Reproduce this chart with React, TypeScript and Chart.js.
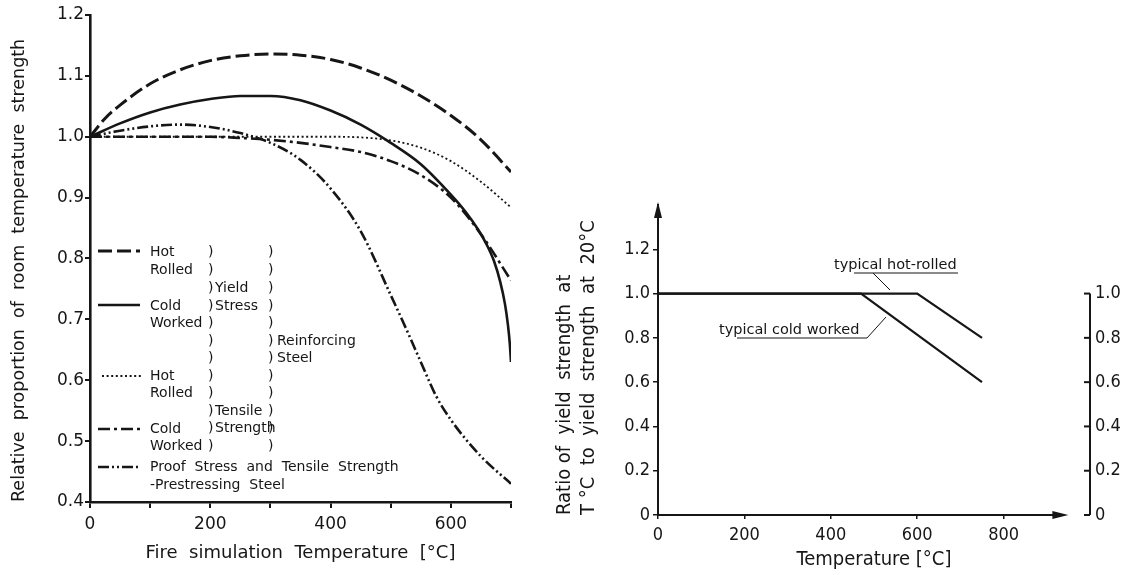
import React, { useEffect, useRef } from 'react';
import { Chart, registerables } from 'chart.js';

Chart.register(...registerables);

const FONT = '"DejaVu Sans", "Liberation Sans", Arial, sans-serif';
const FONT_C = '"DejaVu Sans Condensed", "DejaVu Sans", sans-serif';
const INK = '#161616';

// ---------------- Left chart data ----------------
const leftTempTicks = [0, 100, 200, 300, 400, 500, 600, 700];
const leftRatioTicks = [0.4, 0.5, 0.6, 0.7, 0.8, 0.9, 1.0, 1.1, 1.2];

// Reinforcing steel, hot rolled, yield stress
const hotYieldTemp = [0, 25, 50, 100, 150, 200, 250, 300, 350, 400, 450, 500, 550, 600, 650, 700];
const hotYieldRatio = [1.0, 1.03, 1.052, 1.087, 1.11, 1.125, 1.133, 1.136, 1.134, 1.127, 1.113, 1.093, 1.067, 1.035, 0.995, 0.942];

// Reinforcing steel, cold worked, yield stress
const coldYieldTemp = [0, 50, 100, 150, 200, 250, 300, 350, 400, 450, 500, 550, 600, 625, 645, 660, 672, 682, 690, 695, 698, 700];
const coldYieldRatio = [1.0, 1.022, 1.04, 1.053, 1.062, 1.067, 1.067, 1.06, 1.043, 1.02, 0.99, 0.955, 0.905, 0.876, 0.848, 0.822, 0.795, 0.762, 0.725, 0.69, 0.66, 0.63];

// Reinforcing steel, hot rolled, tensile strength
const hotTensileTemp = [0, 100, 200, 300, 400, 450, 500, 550, 600, 650, 700];
const hotTensileRatio = [1.0, 1.0, 1.0, 1.0, 1.0, 0.999, 0.994, 0.982, 0.96, 0.926, 0.884];

// Reinforcing steel, cold worked, tensile strength
const coldTensileTemp = [0, 100, 200, 250, 300, 350, 400, 450, 500, 550, 600, 650, 700];
const coldTensileRatio = [1.0, 1.0, 1.0, 0.998, 0.995, 0.99, 0.983, 0.975, 0.96, 0.937, 0.9, 0.84, 0.764];

// Prestressing steel, proof stress and tensile strength
const prestressTemp = [0, 50, 100, 150, 200, 250, 300, 350, 400, 450, 500, 530, 550, 575, 600, 650, 700];
const prestressRatio = [1.0, 1.01, 1.017, 1.02, 1.016, 1.006, 0.99, 0.962, 0.915, 0.845, 0.74, 0.675, 0.63, 0.575, 0.535, 0.475, 0.43];

// ---------------- Right chart data ----------------
const rightTempTicks = [0, 200, 400, 600, 800];
const rightRatioTicks = [0, 0.2, 0.4, 0.6, 0.8, 1.0, 1.2];
const secondaryRatioTicks = [0, 0.2, 0.4, 0.6, 0.8, 1.0];

const hotRolledTemp = [0, 600, 750];
const hotRolledRatio = [1.0, 1.0, 0.8];
const coldWorkedTemp = [0, 470, 750];
const coldWorkedRatio = [1.0, 1.0, 0.6];

// ---------------- styles ----------------
const STYLE = {
  hotYield: { dash: [14, 5], width: 3 },
  coldYield: { dash: [] as number[], width: 2.6 },
  hotTensile: { dash: [2, 2.6], width: 1.8 },
  coldTensile: { dash: [12, 4, 3, 4], width: 2.6 },
  prestress: { dash: [11, 3, 2, 3, 2, 3], width: 2.6 },
};

const pts = (xs: number[], ys: number[]) => xs.map((x, i) => ({ x, y: ys[i] }));

function curve(label: string, xs: number[], ys: number[], st: { dash: number[]; width: number }) {
  return {
    label,
    data: pts(xs, ys),
    borderColor: INK,
    borderWidth: st.width,
    borderDash: st.dash,
    borderCapStyle: 'butt' as const,
    pointRadius: 0,
    fill: false,
    cubicInterpolationMode: 'monotone' as const,
  };
}

const leftLegendPlugin = {
  id: 'leftLegend',
  afterDraw(chart: any) {
    const ctx = chart.ctx;
    ctx.save();
    ctx.strokeStyle = INK;
    ctx.fillStyle = INK;
    const samples = [
      { st: STYLE.hotYield, x0: 98, x1: 140, y: 251 },
      { st: STYLE.coldYield, x0: 98, x1: 140, y: 305 },
      { st: STYLE.hotTensile, x0: 102, x1: 143, y: 376 },
      { st: STYLE.coldTensile, x0: 98, x1: 140, y: 429 },
      { st: STYLE.prestress, x0: 98, x1: 140, y: 467 },
    ];
    samples.forEach((s) => {
      ctx.beginPath();
      ctx.setLineDash(s.st.dash);
      ctx.lineWidth = s.st.width;
      ctx.moveTo(s.x0, s.y);
      ctx.lineTo(s.x1, s.y);
      ctx.stroke();
    });
    ctx.setLineDash([]);
    ctx.font = `14px ${FONT}`;
    ctx.textBaseline = 'middle';
    ctx.textAlign = 'left';
    const texts: [string, number, number][] = [
      ['Hot', 150, 252], ['Rolled', 150, 270],
      ['Cold', 150, 306], ['Worked', 150, 323],
      ['Hot', 150, 376], ['Rolled', 150, 393],
      ['Cold', 150, 429], ['Worked', 150, 446],
      ['Proof  Stress  and  Tensile  Strength', 150, 467],
      ['-Prestressing  Steel', 150, 485],
      ['Yield', 215, 288], ['Stress', 215, 306],
      ['Tensile', 215, 411], ['Strength', 215, 428],
      ['Reinforcing', 277, 341], ['Steel', 277, 358],
    ];
    texts.forEach(([t, x, y]) => ctx.fillText(t, x, y));
    const rows = [252, 270, 288, 306, 323, 341, 358, 376, 393, 411, 428, 446];
    rows.forEach((y) => {
      ctx.fillText(')', 208, y);
      ctx.fillText(')', 268, y);
    });
    ctx.restore();
  },
};

const rightDecorPlugin = {
  id: 'rightDecor',
  afterDraw(chart: any) {
    const { ctx, chartArea, scales } = chart;
    const { x, y, y2 } = scales;
    ctx.save();
    ctx.strokeStyle = INK;
    ctx.fillStyle = INK;
    ctx.lineWidth = 2;
    const x0 = x.getPixelForValue(0);
    const yb = y.getPixelForValue(0);
    const xEnd = x.getPixelForValue(950);
    // x axis with arrow
    ctx.beginPath();
    ctx.moveTo(x0, yb);
    ctx.lineTo(xEnd - 6, yb);
    ctx.stroke();
    ctx.beginPath();
    ctx.moveTo(xEnd, yb);
    ctx.lineTo(xEnd - 16, yb - 4);
    ctx.lineTo(xEnd - 16, yb + 4);
    ctx.closePath();
    ctx.fill();
    // y axis arrow head
    const yt = chartArea.top - 3;
    ctx.beginPath();
    ctx.moveTo(x0, yt);
    ctx.lineTo(x0 - 4, yt + 16);
    ctx.lineTo(x0 + 4, yt + 16);
    ctx.closePath();
    ctx.fill();
    // secondary axis
    const xs = y2.left;
    ctx.beginPath();
    ctx.moveTo(xs, y2.getPixelForValue(1.0));
    ctx.lineTo(xs, y2.getPixelForValue(0));
    ctx.stroke();
    secondaryRatioTicks.forEach((v) => {
      const py = y2.getPixelForValue(v);
      ctx.beginPath();
      ctx.moveTo(xs - 6, py);
      ctx.lineTo(xs, py);
      ctx.stroke();
    });
    // annotations
    ctx.font = `14.5px ${FONT}`;
    ctx.textBaseline = 'alphabetic';
    ctx.textAlign = 'left';
    ctx.fillText('typical hot-rolled', 294, 269);
    ctx.fillText('typical cold worked', 179, 334);
    ctx.lineWidth = 1;
    ctx.beginPath();
    ctx.moveTo(314, 273); ctx.lineTo(418, 273);
    ctx.moveTo(333, 273); ctx.lineTo(350, 290);
    ctx.moveTo(197, 338); ctx.lineTo(327, 338);
    ctx.lineTo(346, 317);
    ctx.stroke();
    ctx.restore();
  },
};

function leftConfig(): any {
  return {
    type: 'line',
    data: {
      datasets: [
        curve('Hot Rolled – Yield Stress', hotYieldTemp, hotYieldRatio, STYLE.hotYield),
        curve('Cold Worked – Yield Stress', coldYieldTemp, coldYieldRatio, STYLE.coldYield),
        curve('Hot Rolled – Tensile Strength', hotTensileTemp, hotTensileRatio, STYLE.hotTensile),
        curve('Cold Worked – Tensile Strength', coldTensileTemp, coldTensileRatio, STYLE.coldTensile),
        curve('Prestressing Steel', prestressTemp, prestressRatio, STYLE.prestress),
      ],
    },
    options: {
      responsive: false,
      animation: false,
      layout: { padding: { left: 0, right: 34, top: 15, bottom: 0 } },
      plugins: { legend: { display: false }, tooltip: { enabled: false } },
      scales: {
        x: {
          type: 'linear',
          min: 0,
          max: 700,
          afterBuildTicks: (s: any) => { s.ticks = leftTempTicks.map((v) => ({ value: v })); },
          afterFit: (s: any) => { s.height = 73; },
          grid: { display: true, drawOnChartArea: false, drawTicks: true, tickLength: 6, color: INK, lineWidth: 2 },
          border: { display: true, color: INK, width: 2.6 },
          ticks: {
            autoSkip: false, maxRotation: 0, padding: 6, color: INK,
            font: { family: FONT, size: 17 },
            callback: (v: any) => (Number(v) % 200 === 0 ? String(v) : ''),
          },
          title: {
            display: true, text: 'Fire  simulation  Temperature  [°C]', color: INK,
            font: { family: FONT, size: 18 }, padding: { top: 0, bottom: 11 },
          },
        },
        y: {
          type: 'linear',
          min: 0.4,
          max: 1.2,
          afterBuildTicks: (s: any) => { s.ticks = leftRatioTicks.map((v) => ({ value: v })); },
          afterFit: (s: any) => { s.width = 90; },
          grid: { display: true, drawOnChartArea: false, drawTicks: true, tickLength: 5, color: INK, lineWidth: 2 },
          border: { display: true, color: INK, width: 2.6 },
          ticks: {
            padding: 1, color: INK, font: { family: FONT, size: 17 },
            callback: (v: any) => Number(v).toFixed(1),
          },
          title: {
            display: true, align: 'start',
            text: 'Relative  proportion  of  room  temperature  strength', color: INK,
            font: { family: FONT, size: 17.5 }, padding: { top: 9, bottom: 0 },
          },
        },
      },
    },
    plugins: [leftLegendPlugin],
  };
}

function rightConfig(): any {
  const line = (label: string, xs: number[], ys: number[]) => ({
    label, data: pts(xs, ys), borderColor: INK, borderWidth: 2.2,
    pointRadius: 0, fill: false, tension: 0,
  });
  return {
    type: 'line',
    data: {
      datasets: [
        line('typical hot-rolled', hotRolledTemp, hotRolledRatio),
        line('typical cold worked', coldWorkedTemp, coldWorkedRatio),
      ],
    },
    options: {
      responsive: false,
      animation: false,
      layout: { padding: { left: 0, right: 0, top: 205, bottom: 0 } },
      plugins: { legend: { display: false }, tooltip: { enabled: false } },
      scales: {
        x: {
          type: 'linear',
          min: 0,
          max: 1000,
          afterBuildTicks: (s: any) => { s.ticks = rightTempTicks.map((v) => ({ value: v })); },
          afterFit: (s: any) => { s.height = 60; },
          grid: { display: true, drawOnChartArea: false, drawTicks: true, tickLength: 4, color: INK, lineWidth: 1.5 },
          border: { display: false },
          ticks: { autoSkip: false, maxRotation: 0, padding: 6, color: INK, font: { family: FONT_C, size: 18 } },
          title: {
            display: true, text: 'Temperature [°C]', color: INK,
            font: { family: FONT_C, size: 20 }, padding: { top: 0, bottom: 3 },
          },
        },
        y: {
          type: 'linear',
          min: 0,
          max: 1.4,
          afterBuildTicks: (s: any) => { s.ticks = rightRatioTicks.map((v) => ({ value: v })); },
          afterFit: (s: any) => { s.width = 118; },
          grid: { display: true, drawOnChartArea: false, drawTicks: true, tickLength: 5, color: INK, lineWidth: 1.5 },
          border: { display: true, color: INK, width: 2 },
          ticks: {
            padding: 3, color: INK, font: { family: FONT_C, size: 18 },
            callback: (v: any) => (Number(v) === 0 ? '0' : Number(v).toFixed(1)),
          },
          title: {
            display: true, align: 'start',
            text: ['Ratio of  yield  strength  at', 'T °C  to  yield  strength  at  20°C'],
            color: INK, font: { family: FONT_C, size: 20 }, padding: { top: 13, bottom: 0 },
          },
        },
        y2: {
          type: 'linear',
          position: 'right',
          min: 0,
          max: 1.4,
          afterBuildTicks: (s: any) => { s.ticks = secondaryRatioTicks.map((v) => ({ value: v })); },
          afterFit: (s: any) => { s.width = 38; },
          grid: { display: false, drawTicks: false },
          border: { display: false },
          ticks: {
            padding: 5, color: INK, font: { family: FONT_C, size: 18 },
            callback: (v: any) => (Number(v) === 0 ? '0' : Number(v).toFixed(1)),
          },
        },
      },
    },
    plugins: [rightDecorPlugin],
  };
}

export default function App() {
  const leftRef = useRef<HTMLCanvasElement>(null);
  const rightRef = useRef<HTMLCanvasElement>(null);
  useEffect(() => {
    const left = new Chart(leftRef.current as HTMLCanvasElement, leftConfig());
    const right = new Chart(rightRef.current as HTMLCanvasElement, rightConfig());
    return () => {
      left.destroy();
      right.destroy();
    };
  }, []);
  return (
    <div style={{ position: 'fixed', left: 0, top: 0, width: 1128, height: 575, background: '#fff', overflow: 'hidden' }}>
      <canvas ref={leftRef} width={545} height={575} style={{ position: 'absolute', left: 0, top: 0 }} />
      <canvas ref={rightRef} width={588} height={575} style={{ position: 'absolute', left: 540, top: 0 }} />
    </div>
  );
}
